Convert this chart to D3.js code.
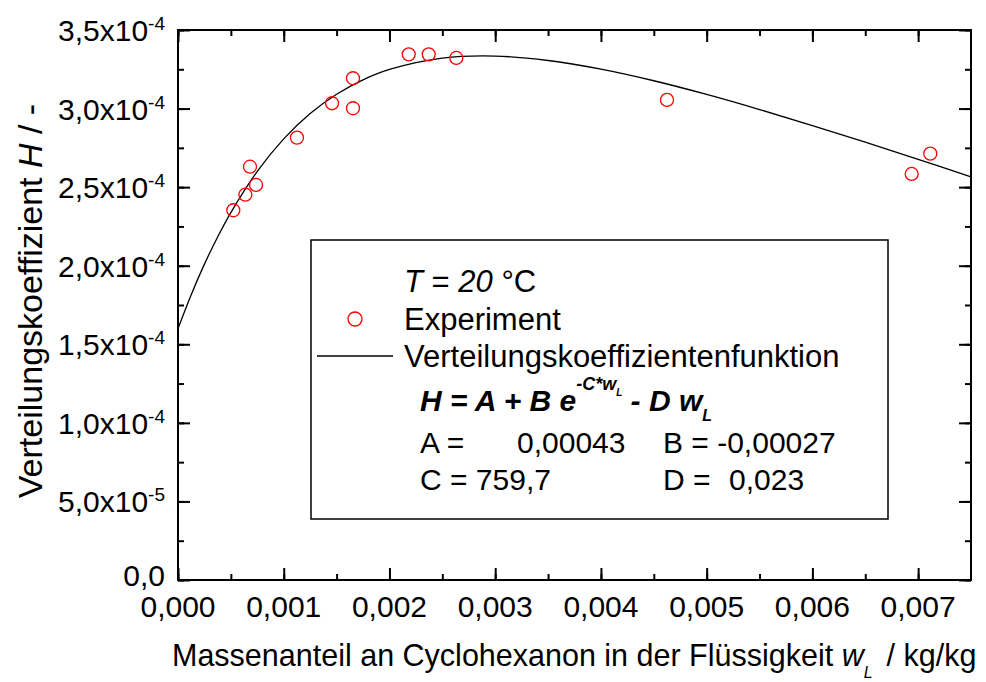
<!DOCTYPE html>
<html>
<head>
<meta charset="utf-8">
<script src="https://cdn.jsdelivr.net/npm/d3@7"></script>
<style>
    body {margin: 0; background: #fff;}
    text {font-family: "Liberation Sans", Arial, sans-serif; fill: #000;}
</style>
</head>
<body>
<div id="chart"></div>
<script>
// experiment points (w_L in kg/kg, H in -)
const wExp = [0.000523, 0.000637, 0.000681, 0.000738, 0.001125, 0.001457, 0.001655, 0.001655,
    0.002182, 0.002371, 0.002632, 0.004625, 0.006939, 0.007115];
const hExp = [2.353e-4, 2.452e-4, 2.630e-4, 2.514e-4, 2.815e-4, 3.034e-4, 3.193e-4, 3.002e-4,
    3.345e-4, 3.345e-4, 3.322e-4, 3.055e-4, 2.584e-4, 2.713e-4];

// fitted curve
const wFit = [0, 0.000125, 0.00025, 0.000375, 0.0005, 0.00075, 0.001, 0.00125, 0.0015, 0.00175, 0.002,
    0.0025, 0.003, 0.0035, 0.004, 0.0045, 0.005, 0.0055, 0.006, 0.0065, 0.007, 0.0075];
const hFit = [1.600e-4, 1.816e-4, 2.010e-4, 2.183e-4, 2.338e-4, 2.600e-4, 2.807e-4, 2.968e-4, 3.091e-4, 3.183e-4, 3.249e-4,
    3.321e-4, 3.334e-4, 3.306e-4, 3.251e-4, 3.177e-4, 3.090e-4, 2.994e-4, 2.892e-4, 2.786e-4, 2.677e-4, 2.566e-4];

const xTicks = [0, 0.001, 0.002, 0.003, 0.004, 0.005, 0.006, 0.007];
const yTicks = [0, 0.5e-4, 1.0e-4, 1.5e-4, 2.0e-4, 2.5e-4, 3.0e-4, 3.5e-4];
const yTickMant = ["0,0", "5,0x10", "1,0x10", "1,5x10", "2,0x10", "2,5x10", "3,0x10", "3,5x10"];
const yTickExp = ["", "-5", "-4", "-4", "-4", "-4", "-4", "-4"];

const paramNames = ["A =", "B = -0,00027", "C = 759,7", "D ="];
const paramValues = ["0,00043", "", "", "0,023"];

const margin = {top: 30, right: 15, bottom: 102, left: 178},
    width = 986 - margin.left - margin.right,
    height = 682 - margin.top - margin.bottom;

const svg = d3.select("#chart")
    .append("svg")
    .attr("width", 986).attr("height", 682)
    .append("g")
    .attr("transform", `translate(${margin.left},${margin.top})`);

const x = d3.scaleLinear().domain([0, 0.0075]).range([0, width]);
const y = d3.scaleLinear().domain([0, 3.5e-4]).range([height, 0]);

const de = d3.formatLocale({decimal: ",", thousands: ".", grouping: [3], currency: ["", "€"]});
const fmtX = de.format(".3f");

// ticks pointing inwards on all four sides
const xMinor = d3.range(0, 0.0075, 0.0005);
const yMinor = d3.range(0, 3.5e-4 + 1e-9, 0.25e-4);

function tickAxis(axis, vals, size, transform) {
    const g = svg.append("g")
        .attr("transform", transform)
        .call(axis.tickValues(vals).tickSize(size).tickFormat(""));
    g.select(".domain").remove();
    g.selectAll("line").attr("stroke", "#000").attr("stroke-width", 2);
    return g;
}
tickAxis(d3.axisBottom(x), xMinor, -6, `translate(0,${height})`);
tickAxis(d3.axisBottom(x), xTicks, -12, `translate(0,${height})`);
tickAxis(d3.axisTop(x), xMinor, -6, "translate(0,0)");
tickAxis(d3.axisTop(x), xTicks, -12, "translate(0,0)");
tickAxis(d3.axisLeft(y), yMinor, -6, "translate(0,0)");
tickAxis(d3.axisLeft(y), yTicks, -12, "translate(0,0)");
tickAxis(d3.axisRight(y), yMinor, -6, `translate(${width},0)`);
tickAxis(d3.axisRight(y), yTicks, -12, `translate(${width},0)`);

svg.append("rect")
    .attr("width", width).attr("height", height)
    .attr("fill", "none").attr("stroke", "#000").attr("stroke-width", 2);

// x tick labels
svg.selectAll(".xlab")
    .data(xTicks)
    .join("text")
    .attr("x", d => x(d))
    .attr("y", height + 37)
    .attr("text-anchor", "middle")
    .style("font-size", "30px")
    .text(d => fmtX(d));

// y tick labels with exponent
const ylab = svg.selectAll(".ylab")
    .data(yTicks)
    .join("text")
    .attr("x", -13)
    .attr("y", (d, i) => y(d) + (yTickExp[i] ? 11 : 6))
    .attr("text-anchor", "end")
    .style("font-size", "30px");
ylab.append("tspan").text((d, i) => yTickMant[i]);
ylab.append("tspan")
    .attr("dy", -11)
    .style("font-size", "19px")
    .text((d, i) => yTickExp[i]);

// axis titles
const xt = svg.append("text")
    .attr("x", -6)
    .attr("y", height + 86)
    .style("font-size", "30.5px");
xt.append("tspan").text("Massenanteil an Cyclohexanon in der Flüssigkeit ");
xt.append("tspan").style("font-style", "italic").text("w");
xt.append("tspan").attr("dy", 12).style("font-size", "16px").style("font-style", "italic").text("L");
xt.append("tspan").attr("dy", -12).attr("dx", 14).text("/ kg/kg");

const yt = svg.append("text")
    .attr("transform", `translate(${42 - margin.left},${301 - margin.top}) rotate(-90)`)
    .attr("text-anchor", "middle")
    .style("font-size", "34px");
yt.append("tspan").text("Verteilungskoeffizient ");
yt.append("tspan").style("font-style", "italic").text("H");
yt.append("tspan").text(" / -");

// fitted curve
svg.append("path")
    .datum(wFit.map((w, i) => ({w: w, h: hFit[i]})))
    .attr("fill", "none")
    .attr("stroke", "#000")
    .attr("stroke-width", 1.3)
    .attr("d", d3.line()
        .x(d => x(d.w))
        .y(d => y(d.h))
        .curve(d3.curveCatmullRom.alpha(0.5)));

// legend box
const lg = svg.append("g").attr("transform", `translate(${311 - margin.left},${240 - margin.top})`);
lg.append("rect")
    .attr("width", 577).attr("height", 279)
    .attr("fill", "#fff").attr("stroke", "#000").attr("stroke-width", 1.5);

const tt = lg.append("text").attr("x", 93).attr("y", 52).style("font-size", "31px");
tt.append("tspan").style("font-style", "italic").text("T");
tt.append("tspan").text(" = ");
tt.append("tspan").style("font-style", "italic").text("20");
tt.append("tspan").text(" °C");

lg.append("circle")
    .attr("cx", 44).attr("cy", 79).attr("r", 7)
    .attr("fill", "none").attr("stroke", "#ff0000").attr("stroke-width", 1.3);
lg.append("text").attr("x", 93).attr("y", 90).style("font-size", "31px").text("Experiment");

lg.append("line")
    .attr("x1", 6).attr("x2", 82).attr("y1", 116).attr("y2", 116)
    .attr("stroke", "#000").attr("stroke-width", 1.3);
lg.append("text").attr("x", 93).attr("y", 127).style("font-size", "31px").text("Verteilungskoeffizientenfunktion");

const fm = lg.append("text")
    .attr("x", 109).attr("y", 171)
    .style("font-size", "30px").style("font-weight", "bold").style("font-style", "italic");
fm.append("tspan").text("H = A + B e");
fm.append("tspan").attr("dy", -21).style("font-size", "18px").text("-C*w");
fm.append("tspan").attr("dy", 6).style("font-size", "10px").text("L");
fm.append("tspan").attr("dy", 15).text(" - D w");
fm.append("tspan").attr("dy", 10).style("font-size", "16px").text("L");

// fit parameters
lg.selectAll(".pname")
    .data(paramNames)
    .join("text")
    .attr("x", (d, i) => i % 2 ? 352 : 109)
    .attr("y", (d, i) => i < 2 ? 213 : 250)
    .style("font-size", "30px")
    .text(d => d);
lg.selectAll(".pval")
    .data(paramValues)
    .join("text")
    .attr("x", (d, i) => i % 2 ? 418 : 206)
    .attr("y", (d, i) => i < 2 ? 213 : 250)
    .style("font-size", "30px")
    .text(d => d);

// experiment points
svg.selectAll(".pt")
    .data(wExp)
    .join("circle")
    .attr("cx", d => x(d))
    .attr("cy", (d, i) => y(hExp[i]))
    .attr("r", 6.5)
    .attr("fill", "none")
    .attr("stroke", "#ff0000")
    .attr("stroke-width", 1.3);
</script>
</body>
</html>
